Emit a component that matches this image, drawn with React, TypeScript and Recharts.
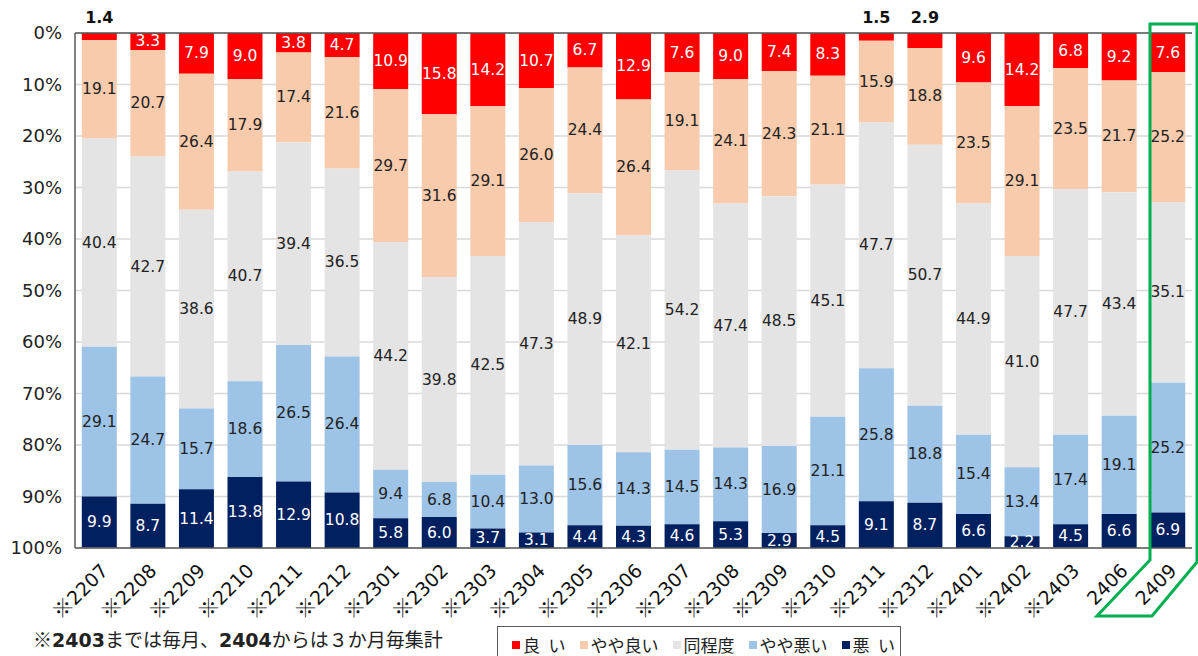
import React from "react";
import {
  BarChart,
  Bar,
  CartesianGrid,
  LabelList,
  ReferenceLine,
  XAxis,
  YAxis,
} from "recharts";

const FONT = '"DejaVu Sans", "Noto Sans CJK JP", sans-serif';
const JP_FONT = '"Noto Sans CJK JP", sans-serif';

const CATEGORIES = [
  "※2207", "※2208", "※2209", "※2210", "※2211", "※2212",
  "※2301", "※2302", "※2303", "※2304", "※2305", "※2306",
  "※2307", "※2308", "※2309", "※2310", "※2311", "※2312",
  "※2401", "※2402", "※2403", "2406", "2409",
];

const GOOD = [1.4, 3.3, 7.9, 9.0, 3.8, 4.7, 10.9, 15.8, 14.2, 10.7, 6.7, 12.9, 7.6, 9.0, 7.4, 8.3, 1.5, 2.9, 9.6, 14.2, 6.8, 9.2, 7.6];
const SOMEWHAT_GOOD = [19.1, 20.7, 26.4, 17.9, 17.4, 21.6, 29.7, 31.6, 29.1, 26.0, 24.4, 26.4, 19.1, 24.1, 24.3, 21.1, 15.9, 18.8, 23.5, 29.1, 23.5, 21.7, 25.2];
const SAME = [40.4, 42.7, 38.6, 40.7, 39.4, 36.5, 44.2, 39.8, 42.5, 47.3, 48.9, 42.1, 54.2, 47.4, 48.5, 45.1, 47.7, 50.7, 44.9, 41.0, 47.7, 43.4, 35.1];
const SOMEWHAT_BAD = [29.1, 24.7, 15.7, 18.6, 26.5, 26.4, 9.4, 6.8, 10.4, 13.0, 15.6, 14.3, 14.5, 14.3, 16.9, 21.1, 25.8, 18.8, 15.4, 13.4, 17.4, 19.1, 25.2];
const BAD = [9.9, 8.7, 11.4, 13.8, 12.9, 10.8, 5.8, 6.0, 3.7, 3.1, 4.4, 4.3, 4.6, 5.3, 2.9, 4.5, 9.1, 8.7, 6.6, 2.2, 4.5, 6.6, 6.9];

const Y_TICKS = [0, 10, 20, 30, 40, 50, 60, 70, 80, 90, 100];

const SERIES = [
  { key: "good", name: "良\u2002い", color: "#FF0000", text: "#FFFFFF" },
  { key: "somewhatGood", name: "やや良い", color: "#F8CBAD", text: "#222222" },
  { key: "same", name: "同程度", color: "#E4E4E4", text: "#222222" },
  { key: "somewhatBad", name: "やや悪い", color: "#9DC3E6", text: "#222222" },
  { key: "bad", name: "悪\u2002い", color: "#002060", text: "#FFFFFF" },
];

const data = CATEGORIES.map((name, i) => ({
  name,
  good: GOOD[i],
  somewhatGood: SOMEWHAT_GOOD[i],
  same: SAME[i],
  somewhatBad: SOMEWHAT_BAD[i],
  bad: BAD[i],
}));

function makeLabel(fill: string, smallOutside: boolean) {
  return (props: any) => {
    const { x, y, width, height, value } = props;
    const cx = Number(x) + Number(width) / 2;
    if (smallOutside && Number(value) < 3) {
      return (
        <text
          x={cx}
          y={17}
          textAnchor="middle"
          dominantBaseline="central"
          fontSize={16}
          fontWeight="bold"
          fill="#111"
          fontFamily={FONT}
        >
          {Number(value).toFixed(1)}
        </text>
      );
    }
    return (
      <text
        x={cx}
        y={Number(y) + Number(height) / 2}
        textAnchor="middle"
        dominantBaseline="central"
        fontSize={15.5}
        fill={fill}
        fontFamily={FONT}
      >
        {Number(value).toFixed(1)}
      </text>
    );
  };
}

// DejaVu Sans digit advance is ~0.636em
const TICK_FONT = 19;
const DIGIT_ADV = 0.636 * TICK_FONT;

function XTick(props: any) {
  const { x, y, payload } = props;
  const label = String(payload.value);
  const mark = label.startsWith("※");
  const digits = mark ? label.slice(1) : label;
  const ax = x + 10;
  const ay = y + 22;
  const back = (digits.length * DIGIT_ADV) / Math.SQRT2;
  const mx = ax - back;
  const my = ay + back;
  return (
    <g>
      <text
        x={ax}
        y={ay}
        textAnchor="end"
        fontSize={TICK_FONT}
        fill="#111"
        fontFamily={FONT}
        transform={`rotate(-45, ${ax}, ${ay})`}
      >
        {digits}
      </text>
      {mark && (
        <text
          x={mx}
          y={my}
          textAnchor="end"
          fontSize={20}
          fill="#111"
          fontFamily={JP_FONT}
          transform={`rotate(-45, ${mx}, ${my})`}
        >
          ※
        </text>
      )}
    </g>
  );
}

export default function App() {
  return (
    <div
      style={{
        position: "absolute",
        left: 0,
        top: 0,
        width: 1198,
        height: 656,
        background: "#fff",
        fontFamily: FONT,
        overflow: "hidden",
      }}
    >
      <BarChart
        width={1198}
        height={656}
        data={data}
        margin={{ top: 33, right: 6, bottom: 0, left: 0 }}
        barCategoryGap="14%"
      >
        <CartesianGrid vertical={false} stroke="#D9D9D9" strokeWidth={1.5} />
        <XAxis
          dataKey="name"
          interval={0}
          height={108}
          tickLine={false}
          tickSize={0}
          axisLine={{ stroke: "#595959", strokeWidth: 1.5 }}
          tick={<XTick />}
        />
        <YAxis
          type="number"
          domain={[0, 100]}
          ticks={Y_TICKS}
          reversed
          allowDataOverflow
          width={75}
          tickLine={false}
          tickSize={0}
          tickMargin={13}
          axisLine={{ stroke: "#595959", strokeWidth: 1.5 }}
          tickFormatter={(v) => `${v}%`}
          tick={{ fontSize: 18, fill: "#222", fontFamily: FONT }}
        />
        <ReferenceLine y={0} stroke="#595959" strokeWidth={1.5} />
        {SERIES.map((s) => (
          <Bar
            key={s.key}
            dataKey={s.key}
            name={s.name}
            stackId="a"
            fill={s.color}
            isAnimationActive={false}
          >
            <LabelList
              dataKey={s.key}
              content={makeLabel(s.text, s.key === "good")}
            />
          </Bar>
        ))}
      </BarChart>

      <svg
        width={1198}
        height={656}
        style={{ position: "absolute", left: 0, top: 0, pointerEvents: "none" }}
      >
        <polygon
          points="1150,24 1197,24 1197,562 1152,616 1097,616 1150,560"
          fill="none"
          stroke="#00B050"
          strokeWidth={3}
        />
      </svg>

      <div
        style={{
          position: "absolute",
          left: 33,
          top: 626,
          fontSize: 19,
          color: "#222",
          whiteSpace: "nowrap",
          lineHeight: "26px",
        }}
      >
        <b>
          <span style={{ fontFamily: JP_FONT }}>※</span>2403
        </b>
        <span style={{ fontFamily: JP_FONT }}>までは毎月、</span>
        <b>2404</b>
        <span style={{ fontFamily: JP_FONT }}>からは３か月毎集計</span>
      </div>

      <div
        style={{
          position: "absolute",
          left: 497,
          top: 626,
          width: 404,
          height: 40,
          border: "1.5px solid #595959",
          display: "flex",
          alignItems: "flex-start",
          paddingLeft: 14,
          paddingTop: 5,
          boxSizing: "border-box",
          gap: 14,
          fontSize: 17,
          fontFamily: JP_FONT,
          color: "#222",
          whiteSpace: "nowrap",
        }}
      >
        {SERIES.map((s) => (
          <div key={s.key} style={{ display: "flex", alignItems: "center" }}>
            <span
              style={{
                display: "inline-block",
                width: 8,
                height: 8,
                background: s.color,
                marginRight: 3,
              }}
            />
            <span>{s.name}</span>
          </div>
        ))}
      </div>
    </div>
  );
}
